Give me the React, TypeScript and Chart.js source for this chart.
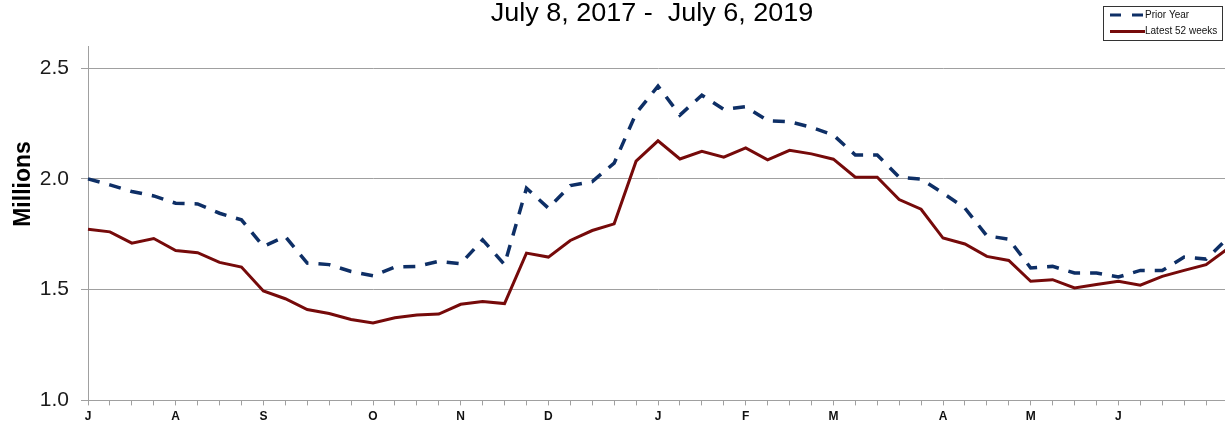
import React, { useEffect, useRef } from "react";
import { Chart, registerables } from "chart.js";

Chart.register(...registerables);

const monthLetters = ["J", "A", "S", "O", "N", "D", "J", "F", "M", "A", "M", "J"];
const monthStartWeeks = [0, 4, 8, 13, 17, 21, 26, 30, 34, 39, 43, 47];
const weekCount = 53;

const latest52Weeks = [
  1.773, 1.761, 1.71, 1.731, 1.677, 1.667, 1.623, 1.602, 1.494, 1.459, 1.41, 1.392, 1.365, 1.35,
  1.373, 1.386, 1.39, 1.434, 1.447, 1.437, 1.665, 1.647, 1.722, 1.767, 1.797, 2.08, 2.172, 2.09,
  2.125, 2.098, 2.14, 2.086, 2.129, 2.113, 2.089, 2.008, 2.008, 1.907, 1.863, 1.733, 1.706, 1.65,
  1.632, 1.538, 1.545, 1.508, 1.523, 1.538, 1.52, 1.56, 1.587, 1.613, 1.686,
];

const priorYear = [
  2.0, 1.973, 1.943, 1.923, 1.89, 1.887, 1.845, 1.815, 1.695, 1.74, 1.62, 1.613, 1.582, 1.563,
  1.602, 1.605, 1.628, 1.617, 1.725, 1.613, 1.958, 1.868, 1.97, 1.988, 2.071, 2.296, 2.419, 2.288,
  2.378, 2.314, 2.326, 2.263, 2.258, 2.233, 2.198, 2.108, 2.108, 2.008, 1.999, 1.936, 1.868, 1.743,
  1.728, 1.598, 1.605, 1.575, 1.575, 1.557, 1.587, 1.586, 1.647, 1.638, 1.733,
];

const yTickValues = [1.0, 1.5, 2.0, 2.5];

const titleText = "July 8, 2017 -  July 6, 2019";
const yTitleText = "Millions";
const seriesNames = ["Prior Year", "Latest 52 weeks"];

const FONT = "'Liberation Sans', Arial, Helvetica, sans-serif";
const BLUE = "#0E2F66";
const RED = "#760A0A";
const GRID = "#A0A0A0";

const weekLabels: string[] = Array.from({ length: weekCount }, (_, i) => {
  const k = monthStartWeeks.indexOf(i);
  return k >= 0 ? monthLetters[k] : "";
});

const decorPlugin = {
  id: "decor",
  afterDraw(chart: any) {
    const ctx = chart.ctx as CanvasRenderingContext2D;
    ctx.save();
    // Title
    ctx.fillStyle = "#000";
    ctx.font = `25px ${FONT}`;
    ctx.textAlign = "center";
    ctx.textBaseline = "alphabetic";
    ctx.save();
    ctx.translate(652, 21);
    ctx.scale(1.08, 1);
    ctx.fillText(titleText, 0, 0);
    ctx.restore();

    // Y axis title
    ctx.save();
    ctx.translate(30, 184);
    ctx.rotate(-Math.PI / 2);
    ctx.font = `bold 23px ${FONT}`;
    ctx.textAlign = "center";
    ctx.textBaseline = "alphabetic";
    ctx.fillStyle = "#000";
    ctx.fillText(yTitleText, 0, 0);
    ctx.restore();

    // Legend box
    const bx = 1103.5, by = 6.5, bw = 119, bh = 34;
    ctx.fillStyle = "#fff";
    ctx.fillRect(bx, by, bw, bh);
    ctx.strokeStyle = "#333";
    ctx.lineWidth = 1;
    ctx.strokeRect(bx, by, bw, bh);

    ctx.lineWidth = 3;
    ctx.strokeStyle = BLUE;
    ctx.setLineDash([11, 11]);
    ctx.beginPath();
    ctx.moveTo(1110, 15);
    ctx.lineTo(1144, 15);
    ctx.stroke();
    ctx.setLineDash([]);
    ctx.strokeStyle = RED;
    ctx.beginPath();
    ctx.moveTo(1110, 31.5);
    ctx.lineTo(1145, 31.5);
    ctx.stroke();

    ctx.fillStyle = "#111";
    ctx.font = `10px ${FONT}`;
    ctx.textAlign = "left";
    ctx.textBaseline = "middle";
    ctx.fillText(seriesNames[0], 1145, 15);
    ctx.fillText(seriesNames[1], 1145, 31.5);
    ctx.restore();
  },
};

const CANVAS_W = 1232;

export default function App() {
  const ref = useRef<HTMLCanvasElement | null>(null);

  useEffect(() => {
    document.body.style.margin = "0";
    document.body.style.overflow = "hidden";
    const canvas = ref.current;
    if (!canvas) return;
    const chart = new Chart(canvas, {
      type: "line",
      data: {
        labels: weekLabels,
        datasets: [
          {
            label: seriesNames[0],
            data: priorYear,
            borderColor: BLUE,
            backgroundColor: BLUE,
            borderWidth: 3.5,
            borderDash: [12, 10],
            pointRadius: 0,
            tension: 0,
            fill: false,
          },
          {
            label: seriesNames[1],
            data: latest52Weeks,
            borderColor: RED,
            backgroundColor: RED,
            borderWidth: 3,
            pointRadius: 0,
            tension: 0,
            fill: false,
          },
        ],
      },
      plugins: [decorPlugin],
      options: {
        responsive: false,
        animation: false,
        layout: { padding: { left: 0, right: 0, top: 46, bottom: 0 } },
        plugins: {
          legend: { display: false },
          title: { display: false },
          tooltip: { enabled: false },
        },
        scales: {
          x: {
            type: "category",
            offset: false,
            grid: {
              drawOnChartArea: false,
              drawTicks: true,
              tickLength: 5,
              tickColor: GRID,
            },
            border: { display: true, color: GRID, width: 1 },
            ticks: {
              autoSkip: false,
              maxRotation: 0,
              minRotation: 0,
              padding: 4,
              color: "#111",
              font: { family: FONT, size: 12, weight: "bold" },
            },
            afterFit(scale: any) {
              scale.height = 24;
            },
          },
          y: {
            min: 1.0,
            max: 2.6,
            grid: {
              color: GRID,
              lineWidth: 1,
              tickLength: 7,
              tickColor: GRID,
            },
            border: { display: true, color: GRID, width: 1 },
            ticks: {
              stepSize: 0.5,
              padding: 12,
              color: "#1a1a1a",
              font: { family: FONT, size: 21 },
              callback: (v: any) => Number(v).toFixed(1),
            },
            afterBuildTicks(axis: any) {
              axis.ticks = yTickValues.map((value) => ({ value }));
            },
            afterFit(scale: any) {
              scale.width = 88;
            },
          },
        },
      } as any,
    });
    return () => chart.destroy();
  }, []);

  return (
    <div style={{ position: "absolute", left: 0, top: 0, width: 1225, height: 425, overflow: "hidden" }}>
      <canvas ref={ref} width={CANVAS_W} height={425} style={{ width: CANVAS_W, height: 425, display: "block" }} />
    </div>
  );
}
